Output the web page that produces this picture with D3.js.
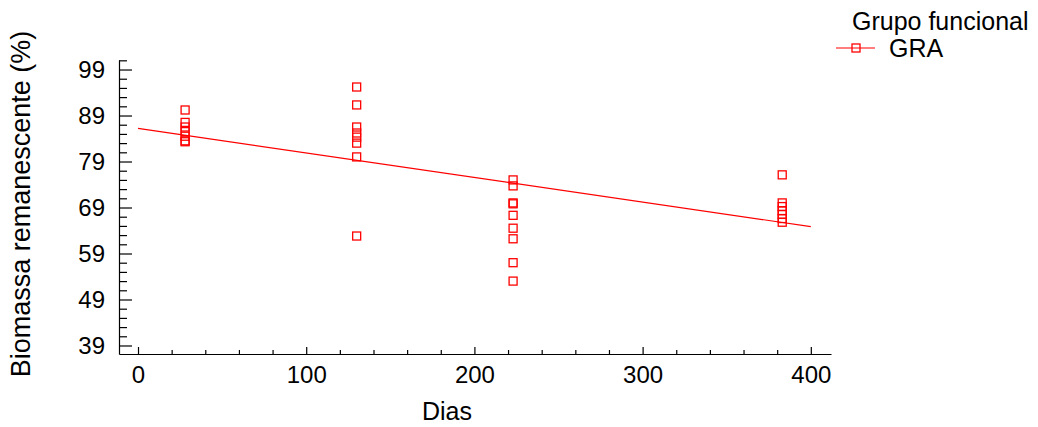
<!DOCTYPE html>
<html>
<head>
<meta charset="utf-8">
<script src="https://cdn.jsdelivr.net/npm/d3@7"></script>
<style>
  body { margin: 0; background: #fff; }
  svg { display: block; font-family: "Liberation Sans", Arial, sans-serif; }
</style>
</head>
<body>
<svg id="chart" width="1038" height="427"></svg>
<script>
// ---- data ----
const days = [28, 130, 223, 383];
const biomass28  = [90.2, 87.5, 86.5, 85.5, 84.5, 83.5, 83.3];
const biomass130 = [95.2, 91.3, 86.5, 85.2, 84.3, 83.0, 80.0, 62.8];
const biomass223 = [75.0, 73.7, 70.0, 69.8, 67.3, 64.5, 62.2, 57.0, 53.0];
const biomass383 = [76.1, 70.0, 69.2, 68.3, 67.5, 66.6, 65.8];
const fitIntercept = 86.2;
const fitSlope = -0.0534;
const fitRange = [0, 400];
const xTicks = [0, 100, 200, 300, 400];
const yTicks = [39, 49, 59, 69, 79, 89, 99];
const groupName = "GRA";
const legendTitle = "Grupo funcional";
const xTitle = "Dias";
const yTitle = "Biomassa remanescente (%)";

const series = [biomass28, biomass130, biomass223, biomass383];
const points = [];
series.forEach((vals, i) => vals.forEach(v => points.push({x: days[i], y: v})));

const red = "#ff0000";
const svg = d3.select("#chart");

const x = d3.scaleLinear().domain([-11.3, 412]).range([119, 831]);
const y = d3.scaleLinear().domain([37.15, 101.07]).range([354, 60]);

// minor ticks
const xMinor = d3.range(0, 401, 20).filter(v => v % 100 !== 0);
const yMinor = d3.range(37, 102, 2).filter(v => (v - 39) % 10 !== 0 && v >= y.domain()[0] && v <= y.domain()[1]);

const gx = svg.append("g").attr("transform", "translate(0,354)");
gx.call(d3.axisBottom(x).tickValues(xTicks).tickSizeInner(-7).tickSizeOuter(0).tickPadding(12).tickFormat(d3.format("d")));
gx.append("g").call(d3.axisBottom(x).tickValues(xMinor).tickSizeInner(-4).tickSizeOuter(0).tickFormat(""))
  .select(".domain").remove();

const gy = svg.append("g").attr("transform", "translate(119,0)");
gy.call(d3.axisLeft(y).tickValues(yTicks).tickSizeInner(-13).tickSizeOuter(0).tickPadding(14).tickFormat(d3.format("d")));
gy.append("g").call(d3.axisLeft(y).tickValues(yMinor).tickSizeInner(-8).tickSizeOuter(0).tickFormat(""))
  .select(".domain").remove();

svg.selectAll(".tick text").attr("font-size", 24).attr("font-family", "Liberation Sans, Arial, sans-serif").attr("fill", "#000");
svg.selectAll(".domain, .tick line").attr("stroke", "#000").attr("stroke-width", 1.2);

// regression line
svg.append("line")
  .attr("x1", x(fitRange[0])).attr("y1", y(fitIntercept + fitSlope * fitRange[0]))
  .attr("x2", x(fitRange[1])).attr("y2", y(fitIntercept + fitSlope * fitRange[1]))
  .attr("stroke", red).attr("stroke-width", 1.2);

// points
const s = 8;
svg.append("g").selectAll("rect").data(points).join("rect")
  .attr("x", d => x(d.x) - s / 2).attr("y", d => y(d.y) - s / 2)
  .attr("width", s).attr("height", s)
  .attr("fill", "none").attr("stroke", red).attr("stroke-width", 1.3);

// axis titles
svg.append("text").attr("x", 447).attr("y", 420).attr("text-anchor", "middle")
  .attr("font-size", 25).text(xTitle);
svg.append("text").attr("transform", "translate(30,204) rotate(-90)").attr("text-anchor", "middle")
  .attr("font-size", 27).text(yTitle);

// legend
svg.append("text").attr("x", 852).attr("y", 30).attr("font-size", 25).text(legendTitle);
svg.append("line").attr("x1", 836).attr("x2", 875).attr("y1", 48).attr("y2", 48)
  .attr("stroke", red).attr("stroke-width", 1.2);
svg.append("rect").attr("x", 852).attr("y", 44).attr("width", s).attr("height", s)
  .attr("fill", "none").attr("stroke", red).attr("stroke-width", 1.3);
svg.append("text").attr("x", 889).attr("y", 57).attr("font-size", 25).text(groupName);
</script>
</body>
</html>
